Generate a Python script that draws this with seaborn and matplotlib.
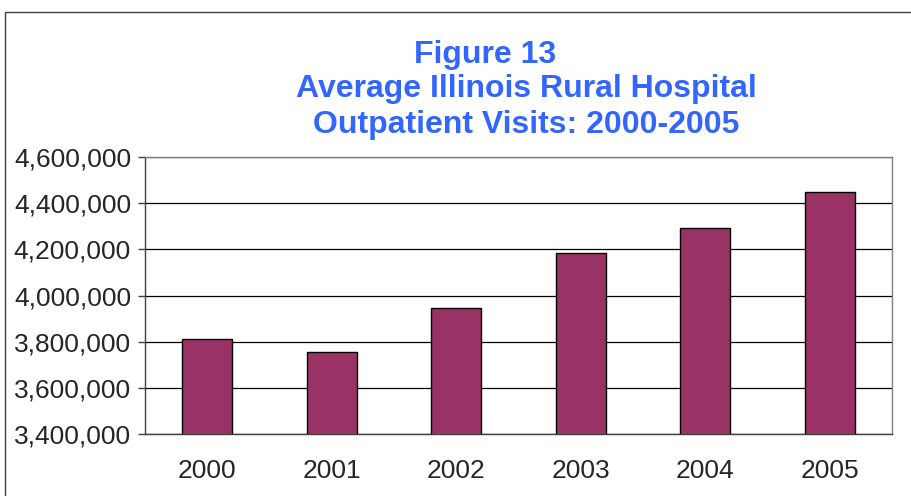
import matplotlib
matplotlib.use("Agg")
import matplotlib.pyplot as plt
import matplotlib.ticker as mticker
import numpy as np
import pandas as pd
import seaborn as sns

years = ["2000", "2001", "2002", "2003", "2004", "2005"]
visits = [3813000, 3755000, 3944000, 4184000, 4292000, 4450000]
title_lines = ["Figure 13", "Average Illinois Rural Hospital", "Outpatient Visits: 2000-2005"]

df = pd.DataFrame({"year": years, "visits": visits})

sns.set_style("white")
plt.rcParams["font.family"] = ["Liberation Sans", "DejaVu Sans"]

fig = plt.figure(figsize=(9.12, 4.96), dpi=100)
ax = fig.add_axes([145 / 912, 1 - 434 / 496, (892 - 145) / 912, (434 - 157) / 496])

# outer chart border (only top and left visible in the original)
fig.add_artist(plt.Rectangle((5 / 912, -0.1), 1.2, 1 - 12 / 496 + 0.1,
                             transform=fig.transFigure, fill=False,
                             edgecolor="#404040", linewidth=1.0))

sns.barplot(data=df, x="year", y="visits", color="#993366", saturation=1,
            width=0.4, edgecolor="black", linewidth=1.0, ax=ax, zorder=3)

ax.set_ylim(3400000, 4600000)
ax.set_xlim(-0.5, 5.5)
ax.yaxis.set_major_locator(mticker.MultipleLocator(200000))
ax.yaxis.set_major_formatter(mticker.StrMethodFormatter("{x:,.0f}"))
ax.grid(axis="y", color="black", linewidth=0.9, zorder=0)
ax.set_axisbelow(True)

ax.set_xticks(np.arange(-0.5, 6, 1), minor=True)
ax.tick_params(axis="x", which="major", length=0, pad=18, labelsize=19)
ax.tick_params(axis="x", which="minor", length=8, width=1, color="#404040", direction="out")
ax.tick_params(axis="y", which="major", length=5, width=1, color="#404040",
               direction="out", pad=5, labelsize=19, left=True)
ax.set_xlabel("")
ax.set_ylabel("")

for side in ["left", "bottom"]:
    ax.spines[side].set_color("#404040")
    ax.spines[side].set_linewidth(1.0)
for side in ["top", "right"]:
    ax.spines[side].set_visible(True)
    ax.spines[side].set_color("#808080")
    ax.spines[side].set_linewidth(1.0)

blue = "#3366FF"
fig.text(485 / 912, 1 - 55 / 496, title_lines[0], ha="center", va="center",
         color=blue, fontsize=23, fontweight="bold")
fig.text(526 / 912, 1 - 89 / 496, title_lines[1], ha="center", va="center",
         color=blue, fontsize=23, fontweight="bold")
fig.text(526 / 912, 1 - 125 / 496, title_lines[2], ha="center", va="center",
         color=blue, fontsize=23, fontweight="bold")

fig.savefig("out.png", dpi=100)
